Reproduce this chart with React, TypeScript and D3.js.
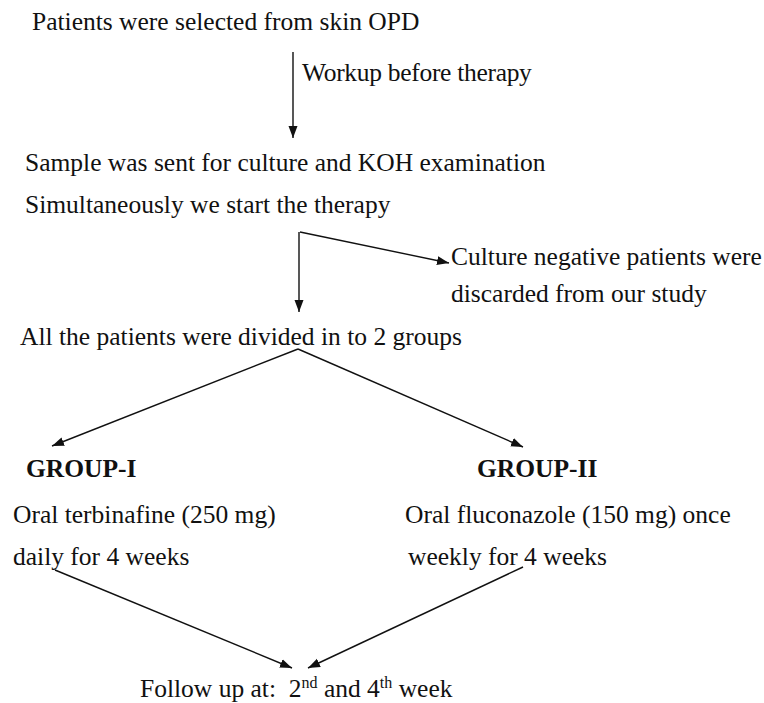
import React, { useEffect, useRef } from 'react';
import * as d3 from 'd3';

// flowchart text
const stepLabels = [
  'Patients were selected from skin OPD',
  'Sample was sent for culture and KOH examination',
  'Simultaneously we start the therapy',
  'All the patients were divided in to 2 groups'
];
const workupLabel = 'Workup before therapy';
const excludedLabels = ['Culture negative patients were', 'discarded from our study'];
const groupNames = ['GROUP-I', 'GROUP-II'];
const groupRegimens = [
  ['Oral terbinafine (250 mg)', 'daily for 4 weeks'],
  ['Oral fluconazole (150 mg) once', 'weekly for 4 weeks']
];
const followUpParts = [
  { text: 'Follow up at:  2', sup: false },
  { text: 'nd', sup: true },
  { text: ' and 4', sup: false },
  { text: 'th', sup: true },
  { text: ' week', sup: false }
];

const W = 764;
const H = 703;
const FONT = 'Liberation Serif, Times New Roman, DejaVu Serif, serif';
const SIZE = 25.5;

const App = () => {
  const ref = useRef<HTMLDivElement>(null);

  useEffect(() => {
    const root = d3.select(ref.current);
    root.selectAll('*').remove();

    const svg = root
      .append('svg')
      .attr('width', W)
      .attr('height', H)
      .style('position', 'absolute')
      .style('left', 0)
      .style('top', 0)
      .style('background', '#fff');

    svg
      .append('defs')
      .append('marker')
      .attr('id', 'head')
      .attr('markerUnits', 'userSpaceOnUse')
      .attr('viewBox', '0 -5 12 10')
      .attr('refX', 12)
      .attr('refY', 0)
      .attr('markerWidth', 12)
      .attr('markerHeight', 10)
      .attr('orient', 'auto')
      .append('path')
      .attr('d', 'M0,-4.5L12,0L0,4.5Z')
      .attr('fill', '#111');

    // layout
    const stepPos = [
      [32, 30],
      [25, 171],
      [25, 213],
      [20, 345]
    ];
    const groupX = [26, 477];
    const regimenX = [
      [13, 13],
      [405, 408]
    ];

    const text = (x: number, y: number, s: string, bold = false) =>
      svg
        .append('text')
        .attr('x', x)
        .attr('y', y)
        .attr('font-family', FONT)
        .attr('font-size', SIZE)
        .attr('font-weight', bold ? 700 : 400)
        .style('white-space', 'pre')
        .attr('fill', '#111')
        .text(s);

    stepLabels.forEach((s, i) => text(stepPos[i][0], stepPos[i][1], s));
    text(302, 81, workupLabel).attr('letter-spacing', -0.3);
    excludedLabels.forEach((s, i) => text(451, [265, 302][i], s));
    groupNames.forEach((s, i) => text(groupX[i], 477, s, true));
    groupRegimens.forEach((lines, g) =>
      lines.forEach((s, i) => text(regimenX[g][i], [523, 565][i], s))
    );

    const follow = svg
      .append('text')
      .attr('x', 140)
      .attr('y', 697)
      .attr('font-family', FONT)
      .attr('font-size', SIZE)
      .style('white-space', 'pre')
      .attr('fill', '#111');
    let shifted = false;
    followUpParts.forEach((p) => {
      const dy = p.sup && !shifted ? -9 : !p.sup && shifted ? 9 : 0;
      shifted = p.sup;
      follow
        .append('tspan')
        .attr('dy', dy)
        .attr('font-size', p.sup ? 16 : SIZE)
        .text(p.text);
    });

    // arrows
    const arrows = [
      [[293, 52], [293, 138]],
      [[300, 232], [449, 263]],
      [[299, 232], [299, 312]],
      [[298, 349], [52, 446]],
      [[298, 349], [523, 447]],
      [[55, 570], [292, 668]],
      [[523, 567], [308, 668]]
    ];
    const line = d3.line();
    svg
      .selectAll('path.arrow')
      .data(arrows)
      .enter()
      .append('path')
      .attr('class', 'arrow')
      .attr('d', (d) => line(d as [number, number][]))
      .attr('fill', 'none')
      .attr('stroke', '#111')
      .attr('stroke-width', 1.4)
      .attr('marker-end', 'url(#head)');
  }, []);

  return <div ref={ref}></div>;
};

export default App;
